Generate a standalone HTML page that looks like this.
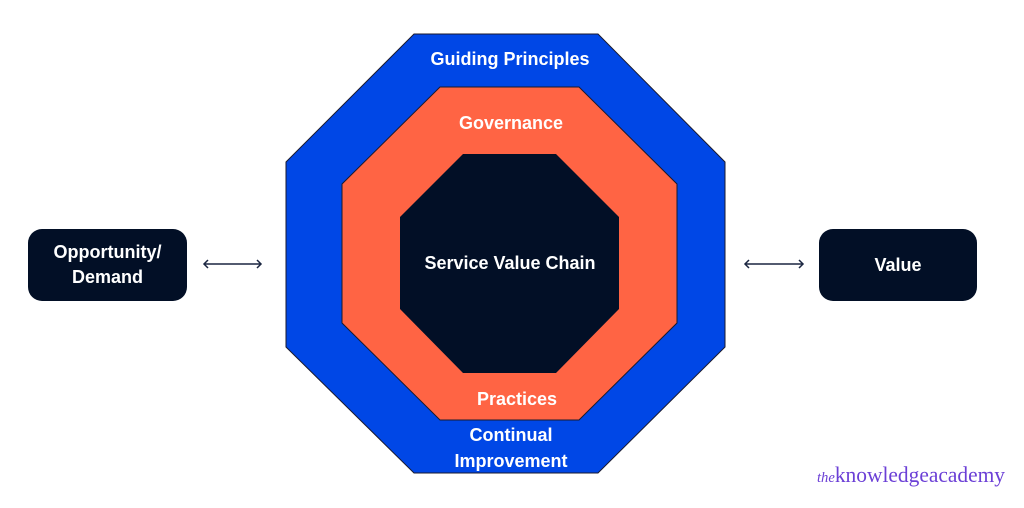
<!DOCTYPE html>
<html><head><style>
body{margin:0;width:1024px;height:508px;background:#fff;overflow:hidden;position:relative;font-family:"Liberation Sans",sans-serif}
.box{position:absolute;background:#020f26;border-radius:14px;color:#fff;font-weight:bold;font-size:18px;display:flex;align-items:center;justify-content:center;text-align:center;line-height:25px}
</style></head><body>
<svg width="1024" height="508" style="position:absolute;left:0;top:0">
<polygon points="414,34 598,34 725,162 725,347 598,473 414,473 286,347 286,162" fill="#0047e6" stroke="#1a1a2e" stroke-width="1"/>
<polygon points="440,87 579,87 677,184 677,323 579,420 440,420 342,323 342,184" fill="#ff6444" stroke="#1a1a2e" stroke-width="1"/>
<polygon points="463,154 556,154 619,217 619,309 556,373 463,373 400,309 400,217" fill="#020f26"/>
<g font-family="Liberation Sans, sans-serif" font-weight="bold" font-size="18" fill="#fff" text-anchor="middle">
<text x="510" y="65">Guiding Principles</text>
<text x="511" y="129">Governance</text>
<text x="510" y="269">Service Value Chain</text>
<text x="517" y="405">Practices</text>
<text x="511" y="441">Continual</text>
<text x="511" y="467">Improvement</text>
</g>
<g stroke="#1a2540" stroke-width="1.5" fill="none">
<line x1="204" y1="264" x2="261" y2="264"/>
<polyline points="208,260 204,264 208,268"/><polyline points="257,260 261,264 257,268"/>
<line x1="745" y1="264" x2="803" y2="264"/>
<polyline points="749,260 745,264 749,268"/><polyline points="799,260 803,264 799,268"/>
</g>
<text x="817" y="482" font-family="Liberation Serif, serif" font-size="22" fill="#6b3fd6" textLength="188" lengthAdjust="spacingAndGlyphs"><tspan font-style="italic" font-size="15">the</tspan>knowledgeacademy</text>
</svg>
<div class="box" style="left:28px;top:229px;width:159px;height:72px">Opportunity/<br>Demand</div>
<div class="box" style="left:819px;top:229px;width:158px;height:72px">Value</div>
</body></html>
